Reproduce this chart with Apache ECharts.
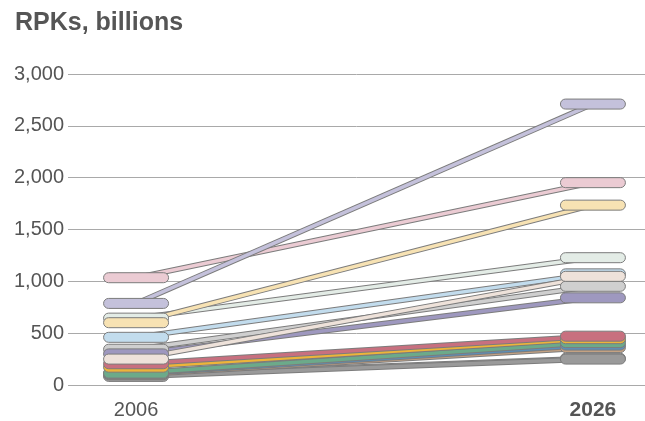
<!DOCTYPE html>
<html>
<head>
<meta charset="utf-8">
<script src="https://cdn.jsdelivr.net/npm/echarts@6/dist/echarts.min.js"></script>
<style>
  html, body { margin: 0; padding: 0; background: #fff; }
  #chart { width: 645px; height: 421px; }
</style>
</head>
<body>
<div id="chart"></div>
<script>
// Revenue passenger kilometres by market, 2006 and 2026 (billions).
// Arrays are listed in drawing order: later entries sit on top.
const years = [2006, 2026];
const colors = [
  '#ebcbd3', '#c4c1db', '#e3ece6', '#f7e2b3', '#c2dced', '#cfcfcf',
  '#9e98bf', '#a6a6a6', '#9a9a9a', '#c4a283', '#5b8fba', '#96c0a6',
  '#6caa8a', '#edb43a', '#c8707f', '#eee2da'
];
const rpk2006 = [1035, 787, 645, 601, 460, 345, 300, 95, 83, 100, 105, 110, 115, 172, 205, 250];
const rpk2026 = [1952, 2710, 1228, 1735, 1072, 952, 841, 258, 250, 361, 385, 428, 409, 447, 471, 1048];
const yTicks = { min: 0, max: 3000, step: 500 };

const FONT = '"Liberation Sans", Arial, Helvetica, sans-serif';
const OUTLINE = '#7c7c7c';
const PILL_W = 65, PILL_H = 10;

const series = [];
// connecting lines: grey casing underneath, coloured core on top
colors.forEach((c, i) => {
  const pts = [[years[0], rpk2006[i]], [years[1], rpk2026[i]]];
  series.push({
    type: 'line', data: pts, symbol: 'none', silent: true, z: 2,
    lineStyle: { color: OUTLINE, width: 5.5 }
  });
  series.push({
    type: 'line', data: pts, symbol: 'none', silent: true, z: 2,
    lineStyle: { color: c, width: 3.5 }
  });
});
// pill markers at both ends
const pills = [];
colors.forEach((c, i) => pills.push([years[0], rpk2006[i], i]));
colors.forEach((c, i) => pills.push([years[1], rpk2026[i], i]));
series.push({
  type: 'custom', data: pills, silent: true, z: 5,
  renderItem: (params, api) => {
    const p = api.coord([api.value(0), api.value(1)]);
    return {
      type: 'rect',
      shape: { x: p[0] - PILL_W / 2, y: p[1] - PILL_H / 2, width: PILL_W, height: PILL_H, r: PILL_H / 2 },
      style: { fill: colors[api.value(2)], stroke: OUTLINE, lineWidth: 1 }
    };
  }
});

const chart = echarts.init(document.getElementById('chart'), null, { renderer: 'canvas' });
chart.setOption({
  animation: false,
  title: {
    text: 'RPKs, billions', left: 10, top: 6,
    textStyle: { fontFamily: FONT, fontSize: 25, fontWeight: 'bold', color: '#555' }
  },
  grid: { left: 68, right: 0, top: 74, bottom: 35 },
  xAxis: {
    type: 'value', min: 2003.02, max: 2028.28,
    axisLine: { show: false }, axisTick: { show: false }, splitLine: { show: false },
    axisLabel: {
      customValues: years, margin: 15,
      fontFamily: FONT, fontSize: 20, color: '#555',
      formatter: v => v === 2026 ? '{b|' + v + '}' : String(v),
      rich: { b: { fontFamily: FONT, fontSize: 21, fontWeight: 'bold', color: '#555' } }
    }
  },
  yAxis: {
    type: 'value', min: yTicks.min, max: yTicks.max, interval: yTicks.step,
    axisLine: { show: false }, axisTick: { show: false },
    splitLine: { lineStyle: { color: '#a9a9a9', width: 1 } },
    axisLabel: {
      margin: 4, fontFamily: FONT, fontSize: 20, color: '#555',
      formatter: v => v.toLocaleString('en-US')
    }
  },
  series: series
});
</script>
</body>
</html>
